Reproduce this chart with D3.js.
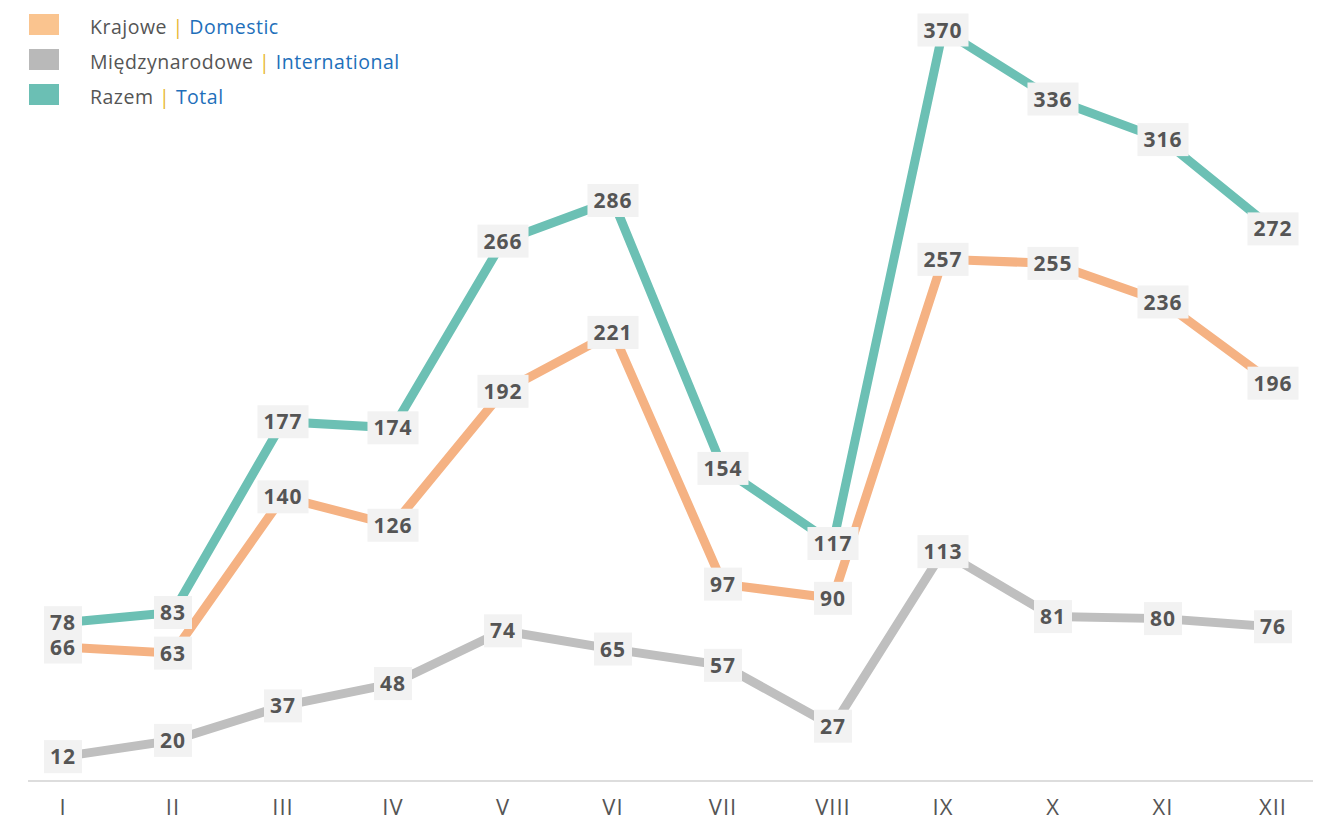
<!DOCTYPE html>
<html>
<head>
<meta charset="utf-8">
<script src="https://cdn.jsdelivr.net/npm/d3@7"></script>
<style>
  body { margin: 0; background: #fff; }
  svg { display: block; font-family: "Open Sans", sans-serif; }
</style>
</head>
<body>
<div id="chart"></div>
<script>
// Monthly data
const months = ["I", "II", "III", "IV", "V", "VI", "VII", "VIII", "IX", "X", "XI", "XII"];
const domestic = [66, 63, 140, 126, 192, 221, 97, 90, 257, 255, 236, 196];
const international = [12, 20, 37, 48, 74, 65, 57, 27, 113, 81, 80, 76];
const total = [78, 83, 177, 174, 266, 286, 154, 117, 370, 336, 316, 272];
const legendPl = ["Krajowe", "Międzynarodowe", "Razem"];
const legendEn = ["Domestic", "International", "Total"];

var width = 1329;
var height = 822;
var lineColors = ["#f5b283", "#bfbfbf", "#6cc0b4"];
var swatchColors = ["#fac48f", "#b9b9b9", "#6bbfb4"];
var textColor = "#555555";

var svg = d3.select("#chart").append("svg")
    .attr("width", width)
    .attr("height", height);

const xScale = d3.scalePoint()
    .domain(months)
    .range([63, 1273]);

const yScale = d3.scaleLinear()
    .domain([0, 370])
    .range([781, 30]);

// baseline
svg.append("line")
    .attr("x1", 28).attr("x2", 1313)
    .attr("y1", yScale(0)).attr("y2", yScale(0))
    .attr("stroke", "#dddddd")
    .attr("stroke-width", 2);

// month labels, close to the bottom edge
svg.append("g")
    .selectAll("text")
    .data(months)
    .enter()
    .append("text")
    .attr("x", d => xScale(d))
    .attr("y", 815)
    .attr("text-anchor", "middle")
    .attr("font-size", 22)
    .attr("letter-spacing", 1)
    .attr("fill", textColor)
    .text(d => d);

const series = [domestic, international, total];

const line = d3.line()
    .x((d, i) => xScale(months[i]))
    .y(d => yScale(d));

// lines: grey first, then orange, then teal on top
[1, 0, 2].forEach(k => {
    svg.append("path")
        .datum(series[k])
        .attr("d", line)
        .attr("fill", "none")
        .attr("stroke", lineColors[k])
        .attr("stroke-width", 9)
        .attr("stroke-linejoin", "miter");
});

// value labels with a light box behind
var labels = svg.append("g");
[1, 0, 2].forEach(k => {
    series[k].forEach((v, i) => {
        var g = labels.append("g")
            .attr("transform", `translate(${xScale(months[i])},${yScale(v)})`);
        var rect = g.append("rect").attr("fill", "#f2f2f2");
        var t = g.append("text")
            .attr("text-anchor", "middle")
            .attr("dy", "0.36em")
            .attr("font-size", 21)
            .attr("font-weight", 700)
            .attr("letter-spacing", 1)
            .attr("fill", textColor)
            .text(v);
        var w = t.node().getComputedTextLength() + 12;
        rect.attr("x", -w / 2).attr("y", -16.5)
            .attr("width", w).attr("height", 33);
    });
});

// legend
var legend = svg.append("g");
legendPl.forEach((name, i) => {
    var cy = 27 + i * 35;
    legend.append("rect")
        .attr("x", 29).attr("y", cy - 13)
        .attr("width", 30).attr("height", 21)
        .attr("fill", swatchColors[i]);
    var t = legend.append("text")
        .attr("x", 90).attr("y", cy)
        .attr("dy", "0.35em")
        .attr("font-size", 19.5)
        .attr("letter-spacing", 0.5)
        .attr("fill", textColor);
    t.append("tspan").text(name + " ");
    t.append("tspan").attr("fill", "#e8b830").text("|");
    t.append("tspan").attr("fill", "#1e6fba").text(" " + legendEn[i]);
});
</script>
</body>
</html>
